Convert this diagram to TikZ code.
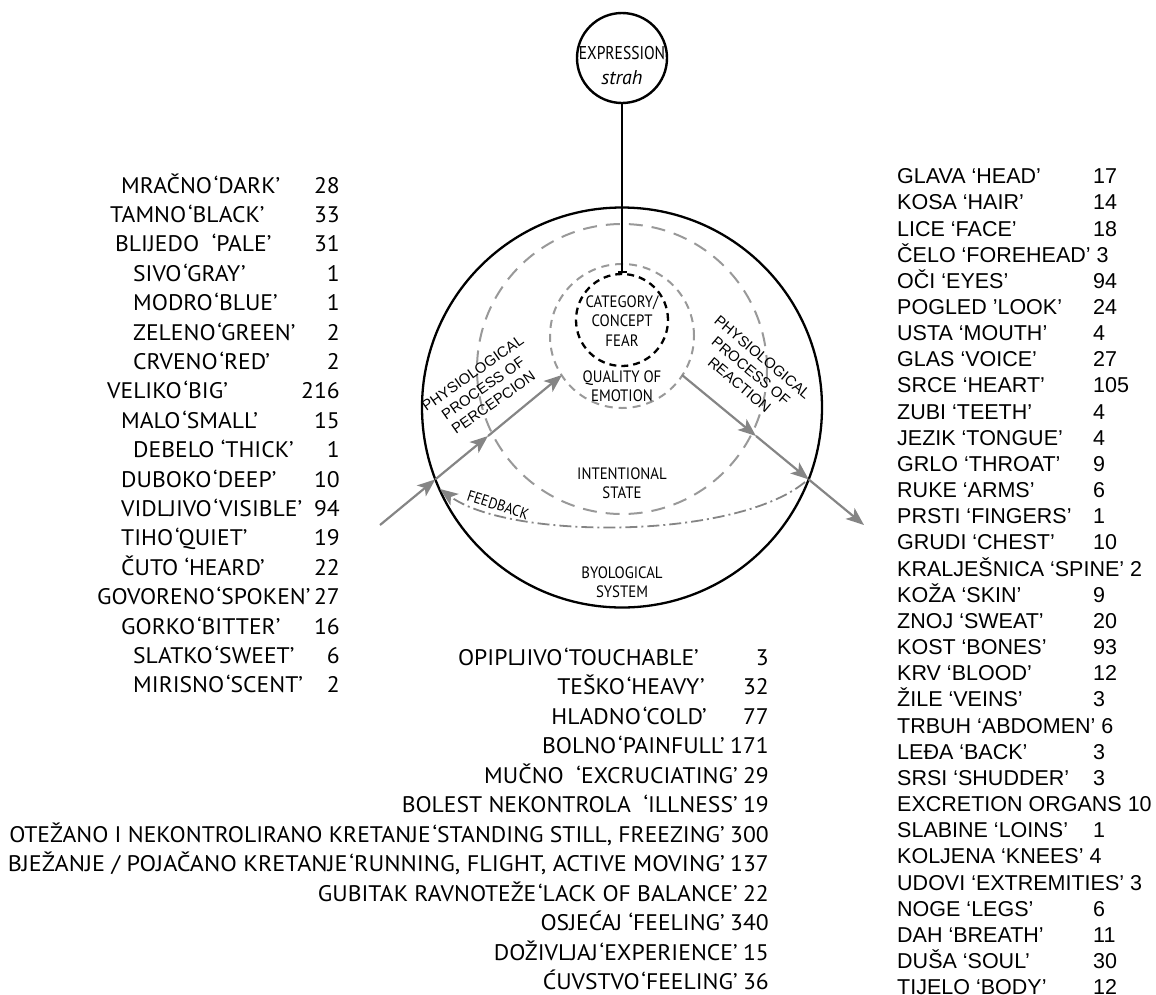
\documentclass[tikz,border=0pt]{standalone}
\usepackage{fontspec}
\setmainfont{PT Sans}
\newfontfamily\listfont[FakeStretch=1.05]{PT Sans}
\newfontfamily\widelistfont[FakeStretch=1.075]{PT Sans}
\newfontfamily\corefont[FakeStretch=0.9]{PT Sans}
\newfontfamily\tightfont[FakeStretch=0.84]{PT Sans}
\newfontfamily\bodyfont{Liberation Sans}
\usetikzlibrary{arrows.meta}
\definecolor{flowgray}{gray}{0.52}
\definecolor{ringgray}{gray}{0.6}
% gloss in single quotes, set close to the word before it
\newcommand\glq[1]{\hspace{0.08em}‘#1’}

\begin{document}
\begin{tikzpicture}[x=1pt,y=-1pt,
  wordlist/.style={font=\listfont\fontsize{22.5}{25}\selectfont, inner sep=0pt},
  bodylist/.style={font=\bodyfont\fontsize{21.5}{25}\selectfont, inner sep=0pt},
  core/.style={font=\corefont\fontsize{16.5}{19.5}\selectfont, align=center, inner sep=0pt},
  procl/.style={font=\bodyfont\fontsize{14.8}{18}\selectfont, align=center, inner sep=0pt},
  ring/.style={circle, inner sep=0pt},
  flow/.style={draw=flowgray, line width=2.2pt, -{Stealth[length=18pt,width=14pt,inset=4.5pt]}},
]
\useasboundingbox (0,0) rectangle (1156,994);

% ---------- central model ----------
\node[ring, draw, line width=2.4pt, minimum size=90pt] (expr) at (622,58) {};
\node[core, font=\tightfont\fontsize{18.5}{19}\selectfont] (exprword) at (622,53) {EXPRESSION};
\node[core, font=\itshape\fontsize{20}{20}\selectfont] (strah) at (622,78) {strah};

\node[ring, draw, line width=2.3pt, minimum size=400pt] (bio) at (622,407.5) {};
\node[ring, draw=ringgray, line width=2pt, dash pattern=on 14pt off 9pt, minimum size=290pt] (intent) at (622,369) {};
\node[ring, draw=ringgray, line width=2pt, dash pattern=on 8pt off 6pt, minimum size=144pt] (quality) at (622,336) {};
\node[ring, draw, line width=2.3pt, dash pattern=on 7pt off 5pt, minimum size=92pt] (concept) at (622,320) {};

\draw[line width=2.2pt, -{Bar[width=9pt]}] (expr.south) -- (concept.north);

\node[core] (catg) at (622,321) {CATEGORY/\\CONCEPT\\FEAR};
\node[core] (qual) at (622,386) {QUALITY OF\\EMOTION};
\node[core] (intl) at (622,483) {INTENTIONAL\\STATE};
\node[core] (biol) at (622,582) {BYOLOGICAL\\SYSTEM};

\node[procl, rotate=35] (perc) at (483,388) {PHYSIOLOGICAL\\PROCESS OF\\PERCEPCION};
\node[procl, rotate=-40] (reac) at (751,371) {PHYSIOLOGICAL\\PROCESS OF\\REACTION};
\node[core, font=\corefont\fontsize{15.5}{16}\selectfont, rotate=-18] (fbl) at (498,505) {FEEDBACK};

% perception and reaction paths
\coordinate (pin) at (380,525);
\coordinate (p1) at (435.3,479.4);
\coordinate (p2) at (488,436);
\coordinate (p3) at (562,375);
\coordinate (r0) at (682,375);
\coordinate (r1) at (756,436);
\coordinate (r2) at (808.7,479.4);
\coordinate (rout) at (864,525);
\draw[flow] (pin) -- (p1);
\draw[flow] (p1) -- (p2);
\draw[flow] (p2) -- (p3);
\draw[flow] (r0) -- (r1);
\draw[flow] (r1) -- (r2);
\draw[flow] (r2) -- (rout);

% feedback loop
\coordinate (fbs) at (805,482);
\coordinate (fbe) at (440,489);
\draw[flow, line width=1.8pt, dash pattern=on 12pt off 4pt on 2pt off 4pt]
  (fbs) .. controls (735,540) and (510,540) .. (fbe);

% ---------- perceptual qualities (left) ----------
\foreach \lx/\nm/\nb [count=\i from 0] in {
  121/{MRAČNO\glq{DARK}}/28,
  110/{TAMNO\glq{BLACK}}/33,
  115/{BLIJEDO\ \ ‘PALE’}/31,
  133/{SIVO\glq{GRAY}}/1,
  133/{MODRO\glq{BLUE}}/1,
  133/{ZELENO\glq{GREEN}}/2,
  133/{CRVENO\glq{RED}}/2,
  107/{VELIKO\glq{BIG}}/216,
  121/{MALO\glq{SMALL}}/15,
  133/{DEBELO ‘THICK’}/1,
  121/{DUBOKO\glq{DEEP}}/10,
  121/{VIDLJIVO\glq{VISIBLE}}/94,
  121/{TIHO\glq{QUIET}}/19,
  121/{ČUTO ‘HEARD’}/22,
  97/{GOVORENO\glq{SPOKEN}}/27,
  121/{GORKO\glq{BITTER}}/16,
  133/{SLATKO\glq{SWEET}}/6,
  133/{MIRISNO\glq{SCENT}}/2}{
  \node[wordlist, anchor=base west] (lw\i) at ({\lx},{193+29.4*\i}) {\nm};
  \node[wordlist, anchor=base east] (ln\i) at (340,{193+29.4*\i}) {\nb};
}

% ---------- bodily and affective states (bottom) ----------
\foreach \nb [count=\i from 0] in {3,32,77}{
  \node[wordlist, anchor=base east] (bn\i) at (769,{665+29.5*\i}) {\nb};
}
\node[wordlist, anchor=base east] (bw0) at (699,665) {OPIPLJIVO\glq{TOUCHABLE}};
\node[wordlist, anchor=base east] (bw1) at (705,694.5) {TEŠKO\glq{HEAVY}};
\node[wordlist, anchor=base east] (bw2) at (707,724) {HLADNO\glq{COLD}};
\foreach \nm/\nb [count=\j from 3] in {
  {BOLNO\glq{PAINFULL}}/171,
  {MUČNO\ \ ‘EXCRUCIATING’}/29,
  {BOLEST NEKONTROLA\ \ ‘ILLNESS’}/19,
  {OTEŽANO I NEKONTROLIRANO KRETANJE\glq{STANDING STILL, FREEZING}}/300,
  {\widelistfont BJEŽANJE / POJAČANO KRETANJE\glq{RUNNING, FLIGHT, ACTIVE MOVING}}/137,
  {GUBITAK RAVNOTEŽE\glq{LACK OF BALANCE}}/22,
  {OSJEĆAJ ‘FEELING’}/340,
  {DOŽIVLJAJ\glq{EXPERIENCE}}/15,
  {ĆUVSTVO\glq{FEELING}}/36}{
  \node[wordlist, anchor=base east] (bn\j) at (769,{665+29.5*\j}) {\nb};
  \node[wordlist, anchor=base east] (bw\j) at ([xshift=-5pt]bn\j.base west) {\nm};
}

% ---------- body parts (right) ----------
\foreach \i/\nm/\nb in {
  0/{GLAVA ‘HEAD’}/17, 1/{KOSA ‘HAIR’}/14, 2/{LICE ‘FACE’}/18,
  4/{OČI ‘EYES’}/94, 5/{POGLED ’LOOK’}/24, 6/{USTA ‘MOUTH’}/4,
  7/{GLAS ‘VOICE’}/27, 8/{SRCE ‘HEART’}/105, 9/{ZUBI ‘TEETH’}/4,
  10/{JEZIK ‘TONGUE’}/4, 11/{GRLO ‘THROAT’}/9, 12/{RUKE ‘ARMS’}/6,
  13/{PRSTI ‘FINGERS’}/1, 14/{GRUDI ‘CHEST’}/10, 16/{KOŽA ‘SKIN’}/9,
  17/{ZNOJ ‘SWEAT’}/20, 18/{KOST ‘BONES’}/93, 19/{KRV ‘BLOOD’}/12,
  20/{ŽILE ‘VEINS’}/3, 22/{LEĐA ‘BACK’}/3, 23/{SRSI ‘SHUDDER’}/3,
  25/{SLABINE ‘LOINS’}/1, 28/{NOGE ‘LEGS’}/6, 29/{DAH ‘BREATH’}/11,
  30/{DUŠA ‘SOUL’}/30, 31/{TIJELO ‘BODY’}/12}{
  \node[bodylist, anchor=base west] (rw\i) at (897,{183.7+26.16*\i}) {\nm};
  \node[bodylist, anchor=base west] (rn\i) at (1093,{183.7+26.16*\i}) {\nb};
}
\foreach \i/\nm in {
  3/{ČELO ‘FOREHEAD’ 3}, 15/{KRALJEŠNICA ‘SPINE’ 2}, 21/{TRBUH ‘ABDOMEN’ 6},
  24/{EXCRETION ORGANS 10}, 26/{KOLJENA ‘KNEES’ 4}, 27/{UDOVI ‘EXTREMITIES’ 3}}{
  \node[bodylist, anchor=base west] (rw\i) at (897,{183.7+26.16*\i}) {\nm};
}
\end{tikzpicture}
\end{document}
